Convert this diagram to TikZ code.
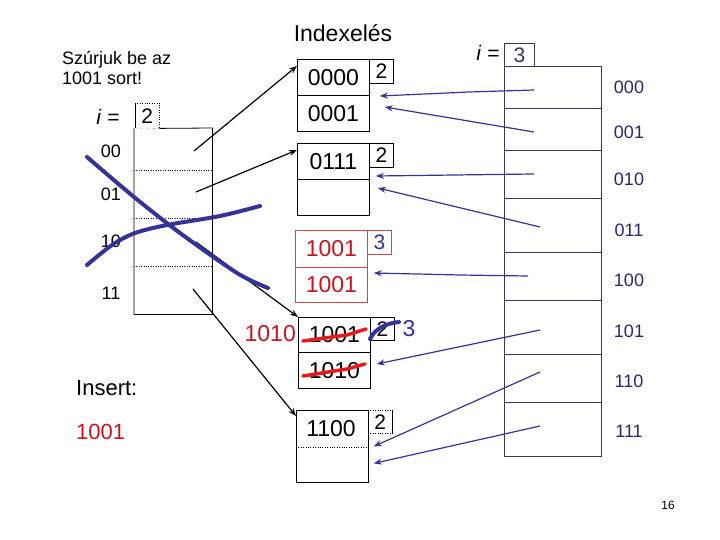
\documentclass[tikz,border=0pt]{standalone}
\usepackage{fontspec}
\setmainfont{Liberation Sans}
\usetikzlibrary{arrows.meta}
\definecolor{pen}{RGB}{51,51,153}
\definecolor{dirc}{RGB}{55,55,95}
\definecolor{dirtxt}{RGB}{40,40,110}
\definecolor{redtxt}{RGB}{200,20,30}
\definecolor{redline}{RGB}{210,70,70}
\definecolor{strike}{RGB}{235,25,25}
\newcommand{\fs}[1]{\fontsize{#1}{#1}\selectfont}
\begin{document}
\begin{tikzpicture}[x=1pt,y=-1pt,
  cell/.style={draw, line width=0.8pt, inner sep=0pt, anchor=north west, minimum width=72pt, minimum height=36pt, font=\fs{23}},
  depth/.style={draw, line width=0.8pt, inner sep=0pt, anchor=north west, minimum width=24pt, minimum height=24pt, font=\fs{21}},
  rslot/.style={draw=dirc, line width=0.8pt, inner sep=0pt, anchor=north west, minimum width=97pt},
  lab/.style={font=\fs{18}, inner sep=0pt},
  rlab/.style={font=\fs{18}, text=dirtxt, inner sep=0pt},
  blk/.style={line width=1.2pt, -{Stealth[length=8pt,width=6pt]}},
  blu/.style={draw=pen, line width=1.2pt, -{Stealth[length=8pt,width=6pt]}},
  pstroke/.style={draw=pen, line width=4pt, line cap=round, line join=round},
  rstroke/.style={draw=strike, line width=3.5pt, line cap=round, line join=round}
]
\useasboundingbox (0,0) rectangle (720,540);

% ---- texts at the left
\node[font=\fs{18}, anchor=base west, inner sep=0pt] (t1) at (62,65) {Szúrjuk be az};
\node[font=\fs{18}, anchor=base west, inner sep=0pt] (t2) at (62,85) {1001 sort!};
\node[font=\fs{22}, anchor=base west, inner sep=0pt] (ins) at (76,395) {Insert:};
\node[font=\fs{22}, anchor=base west, inner sep=0pt, text=redtxt] (insv) at (76,439) {1001};
\node[font=\fs{23}, inner sep=0pt] (title) at (343,33) {Indexelés};
\node[font=\fs{12}, inner sep=0pt] (pg) at (668,505) {16};

% ---- left directory
\node[font=\fs{21}, inner sep=0pt] (lieq) at (108,117) {\textit{i} =};
\node[inner sep=0pt, anchor=north west, minimum width=24pt, minimum height=25pt, font=\fs{21}] (li) at (135,103) {2};
\draw[line width=0.8pt] (li.south west) -- (li.north west);
\draw[dotted] (li.north west) -- (li.north east) -- (li.south east);
\node[inner sep=0pt, anchor=north west, minimum width=78pt, minimum height=186pt] (ld) at (134,128) {};
\draw[line width=0.8pt] (li.south east) -- (ld.north east) -- (ld.south east) -- (ld.south west) -- (ld.north west);
\draw[dotted] (ld.north west) -- (li.south east);
\foreach \yy in {42,90,138}{
  \draw[dotted] ([yshift=-\yy pt]ld.north west) -- ([yshift=-\yy pt]ld.north east);
}
\node[lab] (l00) at (111,151) {00};
\node[lab] (l01) at (111,194) {01};
\node[lab] (l10) at (111,241) {10};
\node[lab] (l11) at (111,293) {11};

% ---- buckets
\node[cell] (a1) at (297,59) {0000};
\node[cell] (a2) at (297,95) {0001};
\node[depth] (ad) at (369,59) {2};

\node[cell] (b1) at (297,143) {0111};
\node[cell] (b2) at (297,179) {};
\node[depth] (bd) at (369,143) {2};

\node[cell, draw=redline, text=redtxt, minimum height=37pt] (c1) at (295,230) {1001};
\node[cell, draw=redline, text=redtxt, minimum height=35pt] (c2) at (295,267) {1001};
\node[depth, draw=redline, text=pen, minimum height=24pt] (cd) at (367,230) {3};

\node[cell, minimum height=35pt] (d1) at (298,317) {1001};
\node[cell, minimum height=36pt] (d2) at (298,352) {1010};
\node[depth, minimum height=23pt] (dd) at (370,317) {2};
\node[font=\fs{23}, inner sep=0pt, text=redtxt, anchor=east] (dnew) at (296,334) {1010};
\node[font=\fs{23}, inner sep=0pt, text=pen] (dthree) at (409,329) {3};

\node[cell, minimum height=72pt] (e) at (296,410) {};
\node[font=\fs{23}, inner sep=0pt] (e1) at (331,429) {1100};
\draw[dotted] ([yshift=-37pt]e.north west) -- ([yshift=-37pt]e.north east);
\node[inner sep=0pt, anchor=north west, minimum width=24pt, minimum height=23pt, font=\fs{21}] (ed) at (368,410) {2};
\draw[dotted] (ed.north west) -- (ed.north east);
\draw[line width=0.8pt] (ed.north east) -- (ed.south east);
\draw[dotted] (ed.south east) -- (ed.south west);

% ---- right directory
\node[font=\fs{21}, inner sep=0pt] (rieq) at (488,53) {\textit{i} =};
\node[draw=dirc, line width=0.8pt, inner sep=0pt, anchor=north west, minimum width=30pt, minimum height=23pt, font=\fs{21}, text=dirc] (ri) at (504,43) {3};
\node[rslot, minimum height=42pt] (rd0) at (504,66) {};
\node[rslot, minimum height=42pt] (rd1) at (504,108) {};
\node[rslot, minimum height=48pt] (rd2) at (504,150) {};
\node[rslot, minimum height=54pt] (rd3) at (504,198) {};
\node[rslot, minimum height=48pt] (rd4) at (504,252) {};
\node[rslot, minimum height=54pt] (rd5) at (504,300) {};
\node[rslot, minimum height=48pt] (rd6) at (504,354) {};
\node[rslot, minimum height=54pt] (rd7) at (504,402) {};
\node[rlab] (r000) at (629,87) {000};
\node[rlab] (r001) at (629,132) {001};
\node[rlab] (r010) at (629,179) {010};
\node[rlab] (r011) at (629,230) {011};
\node[rlab] (r100) at (629,280) {100};
\node[rlab] (r101) at (629,331) {101};
\node[rlab] (r110) at (629,381) {110};
\node[rlab] (r111) at (629,431) {111};

% ---- black pointers of the old directory
\coordinate (s00) at (194,151);
\coordinate (s01) at (196,192);
\coordinate (s10) at (196,242);
\coordinate (s11) at (193,289);
\draw[blk] (s00) -- ([yshift=-7pt]a1.north west);
\draw[blk] (s01) -- ([yshift=-7pt]b1.north west);
\draw[blk] (s10) -- (d1.north west);
\draw[blk] (s11) -- ([yshift=-6pt]e.north west);

% ---- blue pointers of the new directory
\coordinate (p0) at (534,90);
\coordinate (p1) at (534,132);
\coordinate (p2) at (534,174);
\coordinate (p3) at (540,227);
\coordinate (p4) at (528,276);
\coordinate (p5) at (540,330);
\coordinate (p6) at (540,372);
\coordinate (p7) at (540,426);
\draw[blu] (p0) -- (469,92) -- ([xshift=10pt,yshift=-1pt]a2.north east);
\draw[blu] (p1) -- ([xshift=15pt,yshift=-12pt]a2.north east);
\draw[blu] (p2) -- ([xshift=6pt,yshift=3pt]b2.north east);
\draw[blu] (p3) -- ([xshift=8pt,yshift=-9pt]b2.north east);
\draw[blu] (p4) -- (460,275) -- ([xshift=6pt,yshift=-6pt]c2.north east);
\draw[blu] (p5) -- ([xshift=6pt,yshift=-12pt]d2.north east);
\draw[blu] (p6) -- ([xshift=5pt]e.east);
\draw[blu] (p7) -- ([xshift=5pt,yshift=-17pt]e.east);

% ---- hand-drawn crossing strokes
\draw[pstroke] plot[smooth] coordinates {(87,157) (134,197) (180,233) (237,273) (268,288)};
\draw[pstroke] plot[smooth] coordinates {(87,265) (112,245) (135,233) (167,225) (220,216) (260,206)};
\draw[pstroke] (370,339) .. controls (375,328) and (388,323) .. (399,322);
\draw[rstroke] (303,341) -- (347,335) -- (366,329);
\draw[rstroke] (303,376) -- (347,369) -- (365,364);
\end{tikzpicture}
\end{document}
